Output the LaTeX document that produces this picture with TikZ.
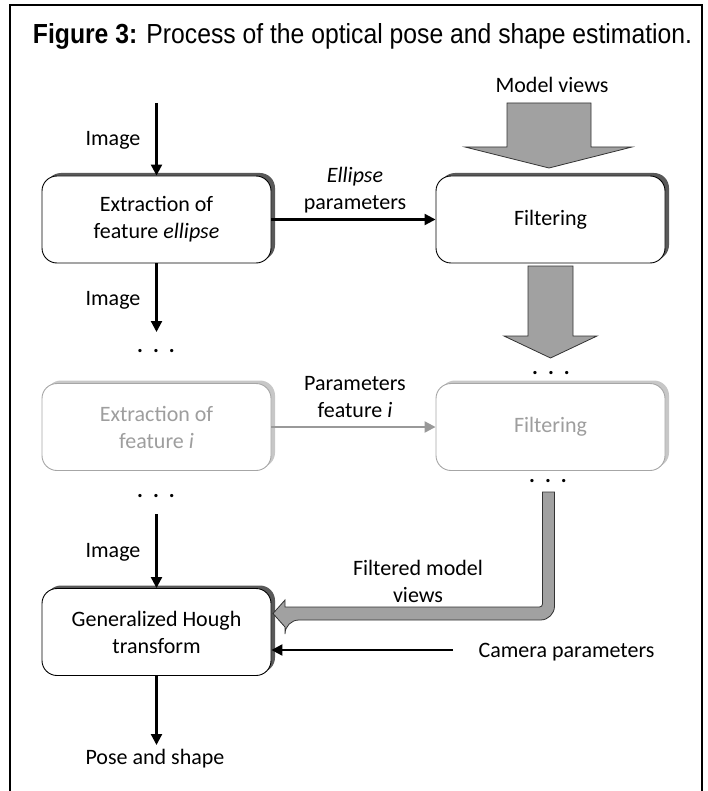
\documentclass[tikz,border=0pt]{standalone}
\usepackage{fontspec}
\setmainfont{Carlito}
\newfontfamily\titlefont{Liberation Sans}
\usetikzlibrary{positioning,shadows,arrows.meta}

\newcommand\dotrow{\textbf{.\hspace{10pt}.\hspace{10pt}.}}

\tikzset{
  stagebase/.style={rounded corners=15pt, fill=white, minimum width=229pt, minimum height=87pt, align=center, font=\fontsize{22}{27}\selectfont, line width=0.9pt},
  stage/.style={stagebase, draw=black, drop shadow={shadow xshift=4pt, shadow yshift=3pt, fill=black!65, opacity=1}},
  faintstage/.style={stagebase, draw=black!35, text=black!38, drop shadow={shadow xshift=4pt, shadow yshift=3pt, fill=black!22, opacity=1}},
  lbl/.style={font=\fontsize{22}{27}\selectfont, align=center, inner sep=0pt},
  flow/.style={-{Triangle[length=11pt,width=11pt]}, line width=2.2pt},
  faintflow/.style={flow, draw=black!40},
  blockarrow/.style={fill=black!37, draw=black!80, line width=0.8pt}
}

\begin{document}
\begin{tikzpicture}[x=1pt,y=-1pt]
\useasboundingbox (0,0) rectangle (708,791);
\draw[line width=1.5pt] (10,791) -- (10,5) -- (702,5) -- (702,791);
\node[inner sep=0pt, anchor=base] (title) at (362.5,44) {\resizebox{659pt}{20pt}{\titlefont\textbf{Figure 3:} Process of the optical pose and shape estimation.}};

% processing stages
\node[stage] (extr) at (156.5,219.5) {Extraction of\\feature \textit{ellipse}};
\node[stage] (filt) at (550.5,219.5) {Filtering};
\node[faintstage] (extri) at (156.5,427) {Extraction of\\feature \textit{i}};
\node[faintstage] (filti) at (550.5,427) {Filtering};
\node[stage] (hough) at (156.5,632) {Generalized Hough\\transform};

% labels
\node[lbl, anchor=base] (views) at (552,93) {Model views};
\node[lbl, anchor=base] (img1) at (113,146) {Image};
\node[lbl, anchor=base] (img2) at (113,305) {Image};
\node[lbl, anchor=base] (img3) at (113,557) {Image};
\node[lbl] (epar) at (355,190) {\textit{Ellipse}\\parameters};
\node[lbl] (ipar) at (355,397) {Parameters\\feature \textit{i}};
\node[lbl] (fviews) at (418,581) {Filtered model\\views};
\node[lbl, anchor=base] (cam) at (566.5,657) {Camera parameters};
\node[lbl, anchor=base] (pose) at (155,764) {Pose and shape};

% dots
\node[lbl, anchor=base] (dotl1) at (156,352) {\dotrow};
\node[lbl, anchor=base] (dotl2) at (156,497) {\dotrow};
\node[lbl, anchor=base] (dotr1) at (551,374) {\dotrow};
\node[lbl, anchor=base] (dotr2) at (548,482) {\dotrow};

\coordinate (in1) at (156.5,103);
\coordinate (in2) at (156.5,332);
\coordinate (in3) at (156.5,514);
\coordinate (out) at (156.5,745);
\coordinate (camsrc) at (453,650);
\coordinate (mvarrow) at (549,103);
\coordinate (fltarrow) at (550.5,266);

% connectors
\draw[flow] (in1) -- (extr);
\draw[flow] (extr.south) -- (in2);
\draw[flow] (in3) -- (hough);
\draw[flow] (hough.south) -- (out);
\draw[flow] (extr.east) -- (filt.west);
\draw[faintflow] (extri.east) -- (filti.west);
\draw[flow] (camsrc) -- (hough.east |- camsrc);

% block arrows
\draw[blockarrow] (mvarrow) ++(-42,0) -- ++(84,0) -- ++(0,44) -- ++(41,0) -- ++(-83,21) -- ++(-84,-21) -- ++(42,0) -- cycle;
\draw[blockarrow] (fltarrow) ++(-22.5,0) -- ++(45,0) -- ++(0,70) -- ++(24,0) -- ++(-46.5,22) -- ++(-46.5,-22) -- ++(24,0) -- cycle;
\draw[blockarrow] (542.5,492) -- (554.5,492) [rounded corners=14pt] -- (554.5,620) -- (285,620) [sharp corners] -- (285,627) -- (273,613.5) -- (285,600) -- (285,607) [rounded corners=3pt] -- (542.5,607) [sharp corners] -- (542.5,492) -- cycle;
\end{tikzpicture}
\end{document}
